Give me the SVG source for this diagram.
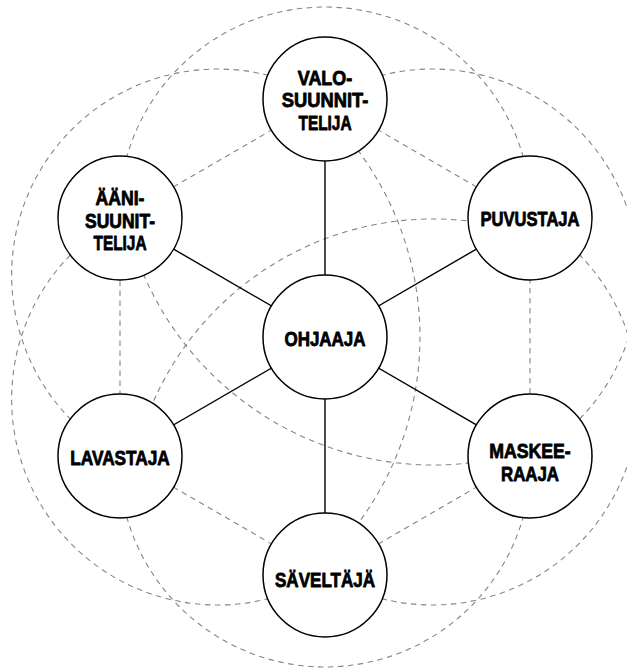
<svg xmlns="http://www.w3.org/2000/svg" width="627" height="668" viewBox="0 0 627 668">
<style>
.bg{fill:#ffffff}
.dash{fill:none;stroke:#858585;stroke-width:1.1;stroke-dasharray:5.5 4.5}
.solid{fill:none;stroke:#000000;stroke-width:1.4}
.node{fill:#ffffff;stroke:#000000;stroke-width:1.5}
.lbl{font-family:"Liberation Sans Narrow","Liberation Sans",Arial,sans-serif;font-weight:700;font-size:20px;fill:#000000;stroke:#000000;stroke-width:0.8;stroke-linejoin:round;text-anchor:middle}
</style>
<rect class="bg" x="0" y="0" width="627" height="668"/>
<g id="connectors">
  <g id="outer-arcs">
    <path class="dash" d="M 119.06 218 A 206 206 0 1 1 530.94 218"/>
    <path class="dash" d="M 119.06 218 A 206 206 0 1 1 530.94 218" transform="rotate(60 325 337)"/>
    <path class="dash" d="M 119.06 218 A 206 206 0 1 1 530.94 218" transform="rotate(120 325 337)"/>
    <path class="dash" d="M 119.06 218 A 206 206 0 1 1 530.94 218" transform="rotate(180 325 337)"/>
    <path class="dash" d="M 119.06 218 A 206 206 0 1 1 530.94 218" transform="rotate(240 325 337)"/>
    <path class="dash" d="M 119.06 218 A 206 206 0 1 1 530.94 218" transform="rotate(300 325 337)"/>
  </g>
  <g id="cross-arcs">
    <path class="dash" d="M 309.7 99 A 312 312 0 0 1 309.7 575"/>
    <path class="dash" d="M 124.9 216.8 A 316 316 0 0 0 527.6 450.7"/>
    <path class="dash" d="M 525 233 A 306 306 0 0 0 134.5 459.5"/>
  </g>
  <g id="ring-lines">
    <line class="dash" x1="325" y1="99" x2="120" y2="218"/>
    <line class="dash" x1="325" y1="99" x2="530" y2="218"/>
    <line class="dash" x1="530" y1="218" x2="530" y2="456"/>
    <line class="dash" x1="530" y1="456" x2="325" y2="575"/>
    <line class="dash" x1="325" y1="575" x2="120" y2="456"/>
    <line class="dash" x1="120" y1="456" x2="120" y2="218"/>
  </g>
  <g id="spokes">
    <line class="solid" x1="325" y1="337" x2="325" y2="99"/>
    <line class="solid" x1="325" y1="337" x2="530" y2="218"/>
    <line class="solid" x1="325" y1="337" x2="530" y2="456"/>
    <line class="solid" x1="325" y1="337" x2="325" y2="575"/>
    <line class="solid" x1="325" y1="337" x2="120" y2="456"/>
    <line class="solid" x1="325" y1="337" x2="120" y2="218"/>
  </g>
</g>
<g id="node-ohjaaja">
  <circle class="node" cx="325" cy="337" r="62"/>
  <text class="lbl" x="325" y="345.5" textLength="81" lengthAdjust="spacingAndGlyphs">OHJAAJA</text>
</g>
<g id="node-valosuunnittelija">
  <circle class="node" cx="325" cy="99" r="62"/>
  <text class="lbl"><tspan x="325" y="84.5" textLength="54.5" lengthAdjust="spacingAndGlyphs">VALO-</tspan><tspan x="325" y="107" textLength="86.5" lengthAdjust="spacingAndGlyphs">SUUNNIT-</tspan><tspan x="325" y="129.5" textLength="53" lengthAdjust="spacingAndGlyphs">TELIJA</tspan></text>
</g>
<g id="node-puvustaja">
  <circle class="node" cx="530" cy="218" r="62"/>
  <text class="lbl" x="530" y="225.5" textLength="99" lengthAdjust="spacingAndGlyphs">PUVUSTAJA</text>
</g>
<g id="node-maskeeraaja">
  <circle class="node" cx="530" cy="456" r="62"/>
  <text class="lbl"><tspan x="530" y="458" textLength="81.5" lengthAdjust="spacingAndGlyphs">MASKEE-</tspan><tspan x="530" y="480.5" textLength="58" lengthAdjust="spacingAndGlyphs">RAAJA</tspan></text>
</g>
<g id="node-saveltaja">
  <circle class="node" cx="325" cy="575" r="62"/>
  <text class="lbl" x="325" y="586.5" textLength="100" lengthAdjust="spacingAndGlyphs">SÄVELTÄJÄ</text>
</g>
<g id="node-lavastaja">
  <circle class="node" cx="120" cy="456" r="62"/>
  <text class="lbl" x="120" y="465" textLength="99.5" lengthAdjust="spacingAndGlyphs">LAVASTAJA</text>
</g>
<g id="node-aanisuunnittelija">
  <circle class="node" cx="120" cy="218" r="62"/>
  <text class="lbl"><tspan x="120" y="205" textLength="49" lengthAdjust="spacingAndGlyphs">ÄÄNI-</tspan><tspan x="120" y="227.5" textLength="70" lengthAdjust="spacingAndGlyphs">SUUNIT-</tspan><tspan x="120" y="250" textLength="53" lengthAdjust="spacingAndGlyphs">TELIJA</tspan></text>
</g>
</svg>
